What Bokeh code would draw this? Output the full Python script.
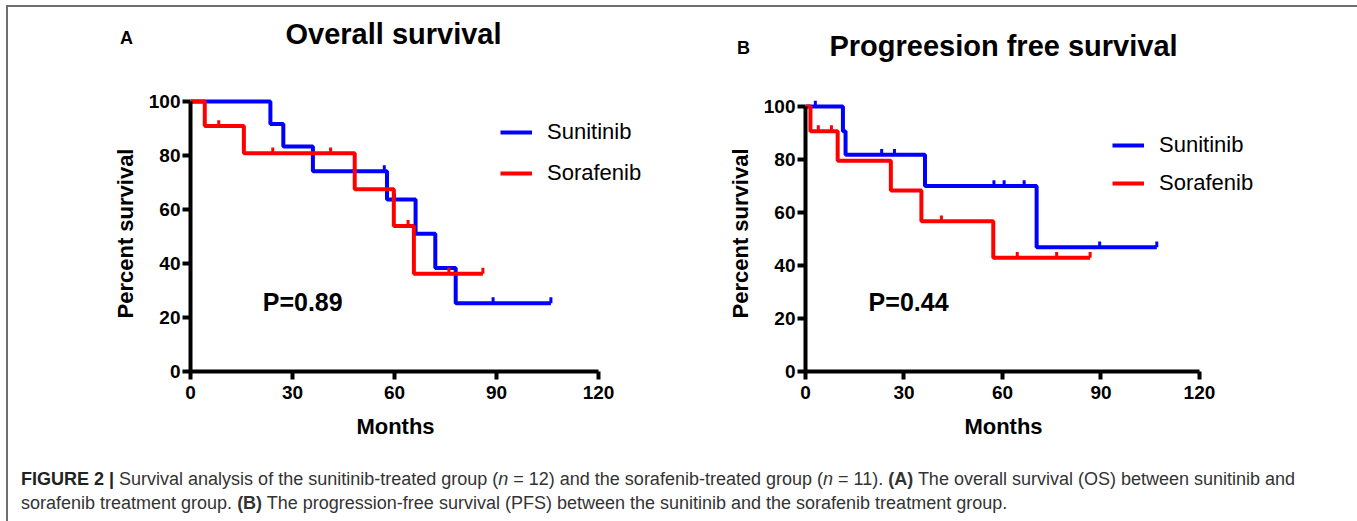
import math
from bokeh.plotting import figure
from bokeh.models import Range1d, FixedTicker, Label, Legend, LegendItem, Div
from bokeh.layouts import row, column
from bokeh.core.properties import value
from bokeh.embed import file_html
from bokeh.resources import INLINE

# ---------------- data ----------------
x_ticks = [0, 30, 60, 90, 120]
y_ticks = [0, 20, 40, 60, 80, 100]
series_names = ["Sunitinib", "Sorafenib"]

# Overall survival
os_sun_t = [0, 23.5, 27.3, 36.0, 57.8, 66.2, 72.0, 78.0, 106.0]
os_sun_s = [100, 91.7, 83.3, 74.2, 63.7, 51.0, 38.3, 25.3, 25.3]
os_sun_cens_t = [57.0, 60.0, 89.0, 106.0]
os_sun_cens_s = [74.2, 63.7, 25.3, 25.3]

os_sor_t = [0, 4.2, 15.7, 48.3, 59.8, 65.7, 86.0]
os_sor_s = [100, 90.9, 80.8, 67.5, 53.9, 36.2, 36.2]
os_sor_cens_t = [8.3, 24.2, 41.2, 64.0, 76.0, 86.0]
os_sor_cens_s = [90.9, 80.8, 80.8, 53.9, 36.2, 36.2]

# Progression free survival
pfs_sun_t = [0, 11.4, 12.2, 36.4, 70.4, 107.0]
pfs_sun_s = [100, 90.7, 81.8, 70.0, 46.9, 46.9]
pfs_sun_cens_t = [3.0, 23.2, 27.1, 57.4, 60.5, 66.6, 89.6, 107.0]
pfs_sun_cens_s = [100, 81.8, 81.8, 70.0, 70.0, 70.0, 46.9, 46.9]

pfs_sor_t = [0, 1.5, 9.8, 26.0, 35.3, 57.2, 86.7]
pfs_sor_s = [100, 90.7, 79.5, 68.3, 56.7, 42.9, 42.9]
pfs_sor_cens_t = [3.9, 7.9, 41.4, 64.5, 76.5, 86.7]
pfs_sor_cens_s = [90.7, 90.7, 56.7, 42.9, 42.9, 42.9]

p_values = ["P=0.89", "P=0.44"]
titles = ["Overall survival", "Progreesion free survival"]
letters = ["A", "B"]
x_label = "Months"
y_label = "Percent survival"

# ---------------- style ----------------
FONT = "Liberation Sans"
BLUE = "#0000FF"
RED = "#FF0000"
CENS_LEN = 2.2  # censor tick length in percent units
X_END = 140


def text_strip(W, H, entries):
    s = figure(width=W, height=H, output_backend="svg", toolbar_location=None,
               x_range=Range1d(0, W), y_range=Range1d(H, 0),
               min_border=0, min_border_left=0, min_border_right=0,
               min_border_top=0, min_border_bottom=0, title=None)
    s.axis.visible = False
    s.grid.visible = False
    s.outline_line_color = None
    s.background_fill_color = "white"
    s.border_fill_color = "white"
    for (x, y, txt, size) in entries:
        s.text(x=[x], y=[y], text=[txt], text_font=value(FONT),
               text_font_style="bold", text_font_size=size, text_color="black",
               text_align="center", text_baseline="middle")
    return s


def make_panel(W, H, mb_left, mb_top, mb_bottom, px_x, px_y,
               sun, sor, pval, p_xy, leg_loc, leg_spacing):
    fw = round(X_END * px_x)
    mb_right = W - mb_left - fw
    fh = H - mb_top - mb_bottom
    p = figure(width=W, height=H, output_backend="svg", toolbar_location=None,
               x_range=Range1d(0, fw / px_x), y_range=Range1d(0, fh / px_y),
               min_border_left=mb_left, min_border_right=mb_right,
               min_border_top=mb_top, min_border_bottom=mb_bottom,
               title=None)
    p.outline_line_color = None
    p.xgrid.grid_line_color = None
    p.ygrid.grid_line_color = None
    p.background_fill_color = "white"
    p.border_fill_color = "white"

    items = []
    for (t, s, ct, cs), col, name in zip((sun, sor), (BLUE, RED), series_names):
        r = p.step(t, s, mode="after", line_width=4, line_color=col)
        p.segment(x0=ct, y0=cs, x1=ct, y1=[v + CENS_LEN for v in cs],
                  line_width=3, line_color=col)
        m = p.scatter(x=[], y=[], marker="dash", angle=math.pi / 2, size=9,
                      line_color=col, line_width=3)
        items.append(LegendItem(label=name, renderers=[r, m]))

    leg = Legend(items=items, location=leg_loc, orientation="vertical",
                 glyph_width=32, glyph_height=20, label_height=20,
                 label_standoff=15, spacing=leg_spacing, padding=0, margin=0,
                 border_line_color=None, background_fill_alpha=0,
                 label_text_font=FONT, label_text_font_size="22px",
                 label_text_color="black")
    p.add_layout(leg)

    p.xaxis.ticker = FixedTicker(ticks=x_ticks)
    p.yaxis.ticker = FixedTicker(ticks=y_ticks)
    p.xaxis.bounds = (0, 120)
    p.yaxis.bounds = (0, 100)
    p.yaxis.axis_label = y_label
    for ax in (p.xaxis[0], p.yaxis[0]):
        ax.axis_line_width = 4
        ax.axis_line_color = "black"
        ax.major_tick_line_width = 4
        ax.major_tick_line_color = "black"
        ax.major_tick_out = 8
        ax.major_tick_in = 0
        ax.minor_tick_line_color = None
        ax.major_label_text_font = FONT
        ax.major_label_text_font_style = "bold"
        ax.major_label_text_font_size = "19px"
        ax.major_label_text_color = "black"
        ax.axis_label_text_font = FONT
        ax.axis_label_text_font_style = "bold"
        ax.axis_label_text_font_size = "22px"
        ax.axis_label_text_color = "black"
    p.xaxis.major_label_standoff = 6
    p.yaxis.major_label_standoff = 2
    p.yaxis.axis_label_standoff = 8

    p.add_layout(Label(x=p_xy[0], y=p_xy[1], text=pval, text_font=FONT,
                       text_font_style="bold", text_font_size="25px",
                       text_color="black",
                       text_align="center", text_baseline="middle"))
    return p


sA = text_strip(692, 60, [(118, 30, letters[0], "18px"), (385, 26, titles[0], "29px")])
sB = text_strip(653, 60, [(43, 40, letters[1], "18px"), (303, 38, titles[1], "29px")])

pA = make_panel(692, 344, 182, 28, 40, 3.4, 2.7,
                (os_sun_t, os_sun_s, os_sun_cens_t, os_sun_cens_s),
                (os_sor_t, os_sor_s, os_sor_cens_t, os_sor_cens_s),
                p_values[0], (33.0, 25.7), (310, 185), 15)

pB = make_panel(653, 344, 105, 28, 40, 3.283, 2.65,
                (pfs_sun_t, pfs_sun_s, pfs_sun_cens_t, pfs_sun_cens_s),
                (pfs_sor_t, pfs_sor_s, pfs_sor_cens_t, pfs_sor_cens_s),
                p_values[1], (31.4, 26.2), (307, 175), 12)

mA = text_strip(692, 44, [(387, 15, x_label, "22px")])
mB = text_strip(653, 44, [(303, 15, x_label, "22px")])

caption_html = (
    '<div style="padding:7px 0 0 8px; font-family:\'Liberation Sans\'; font-size:18px; '
    'line-height:24px; color:#333; white-space:nowrap;">'
    '<b style="color:#222">FIGURE 2 |</b> Survival analysis of the sunitinib-treated group '
    '(<i>n</i> = 12) and the sorafenib-treated group (<i>n</i> = 11). <b>(A)</b> The overall '
    'survival (OS) between sunitinib and<br>sorafenib treatment group. <b>(B)</b> The '
    'progression-free survival (PFS) between the sunitinib and the sorafenib treatment group.'
    '</div>'
)
cap = Div(text=caption_html, width=1345, height=60)

layout = column(row(sA, sB), row(pA, pB), row(mA, mB), cap, margin=(5, 0, 0, 6),
                styles={"border": "2px solid #6e6e6e", "border-bottom": "none",
                        "background": "white"})

open("out.html", "w").write(file_html(layout, INLINE))
